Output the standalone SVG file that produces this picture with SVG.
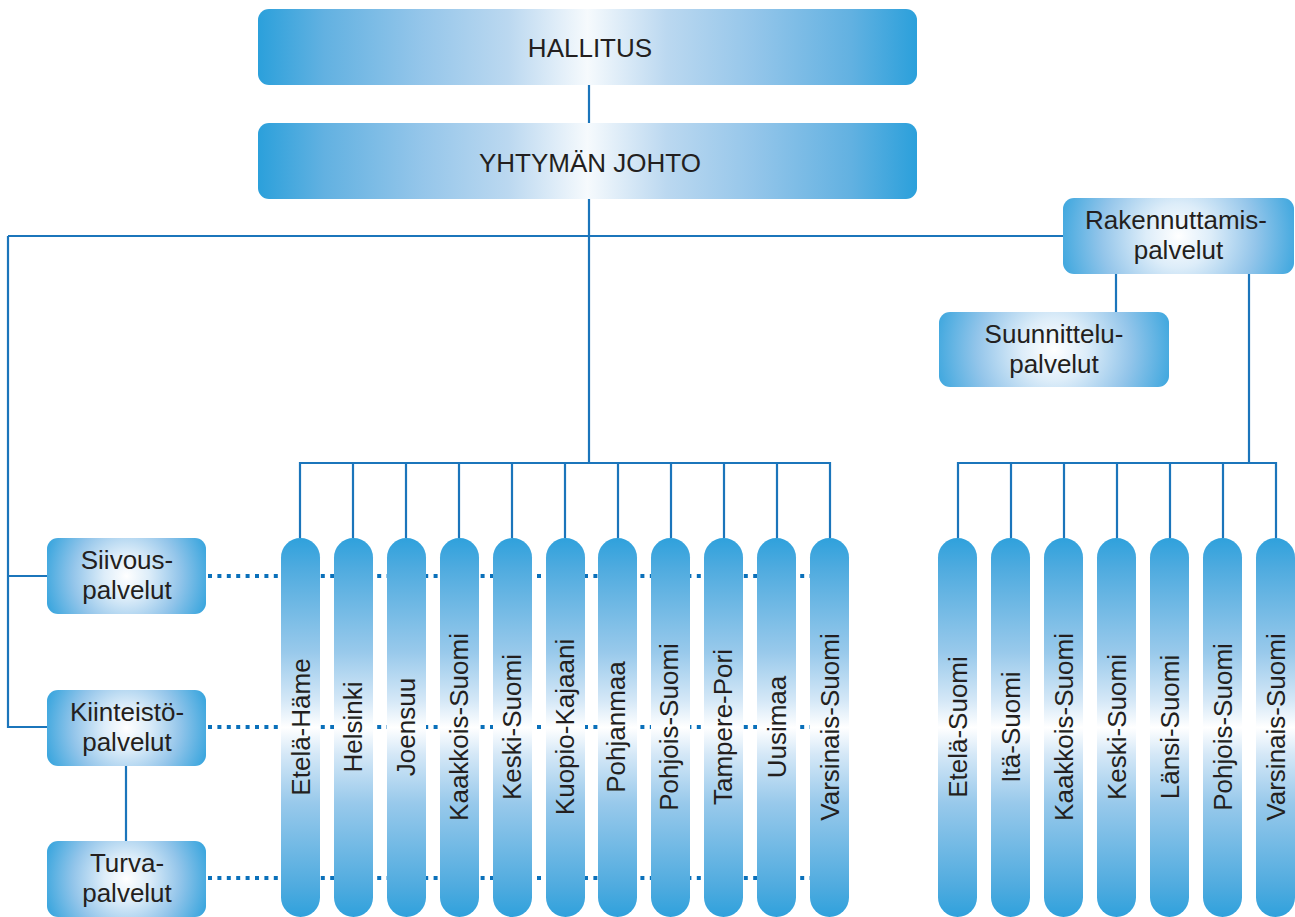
<svg xmlns="http://www.w3.org/2000/svg" width="1295" height="917" viewBox="0 0 1295 917">
<defs>
<linearGradient id="gWide" x1="0" y1="0" x2="1" y2="0">
<stop offset="0" stop-color="#2BA0DB"/>
<stop offset="0.1" stop-color="#62B1E1"/>
<stop offset="0.25" stop-color="#95C6EA"/>
<stop offset="0.38" stop-color="#BBD8F0"/>
<stop offset="0.5" stop-color="#F6FAFD"/>
<stop offset="0.62" stop-color="#BBD8F0"/>
<stop offset="0.75" stop-color="#95C6EA"/>
<stop offset="0.9" stop-color="#62B1E1"/>
<stop offset="1" stop-color="#2BA0DB"/>
</linearGradient>
<radialGradient id="gSmall" cx="0.5" cy="0.5" r="0.56" gradientTransform="translate(0.5,0.5) scale(1,2.1) translate(-0.5,-0.5)">
<stop offset="0" stop-color="#FFFFFF"/>
<stop offset="0.25" stop-color="#DDEDF9"/>
<stop offset="0.6" stop-color="#93C5EA"/>
<stop offset="1" stop-color="#2DA1DC"/>
</radialGradient>
<radialGradient id="gMid" cx="0.5" cy="0.5" r="0.56" gradientTransform="translate(0.5,0.5) scale(1,3) translate(-0.5,-0.5)">
<stop offset="0" stop-color="#FFFFFF"/>
<stop offset="0.25" stop-color="#DDEDF9"/>
<stop offset="0.6" stop-color="#93C5EA"/>
<stop offset="1" stop-color="#2DA1DC"/>
</radialGradient>
<linearGradient id="gBar" x1="0" y1="0" x2="0" y2="1">
<stop offset="0" stop-color="#2FA1DC"/>
<stop offset="0.08" stop-color="#4FABDF"/>
<stop offset="0.3" stop-color="#98C9EB"/>
<stop offset="0.43" stop-color="#D5E8F7"/>
<stop offset="0.5" stop-color="#FFFFFF"/>
<stop offset="0.57" stop-color="#D5E8F7"/>
<stop offset="0.7" stop-color="#98C9EB"/>
<stop offset="0.92" stop-color="#4FABDF"/>
<stop offset="1" stop-color="#2FA1DC"/>
</linearGradient>
</defs>
<style>
.ln{stroke:#1B75BB;stroke-width:2.2;fill:none}
.dot{stroke:#0A70BA;stroke-width:4;stroke-dasharray:4 5.4;fill:none}
.t{font-family:"Liberation Sans",Arial,sans-serif;font-size:26px;fill:#231F20;text-anchor:middle}
.wide{fill:url(#gWide)}
.small{fill:url(#gSmall)}
.mid{fill:url(#gMid)}
.bar{fill:url(#gBar)}
</style>
<rect width="1295" height="917" fill="#FFFFFF"/>
<g id="connectors">
<line class="ln" x1="589" y1="84" x2="589" y2="123"/>
<line class="ln" x1="589" y1="197" x2="589" y2="463"/>
<line class="ln" x1="8" y1="236" x2="1063" y2="236"/>
<polyline class="ln" points="47,727 8,727 8,236"/>
<line class="ln" x1="8" y1="576" x2="47" y2="576"/>
<line class="ln" x1="126" y1="766" x2="126" y2="841"/>
<line class="ln" x1="1116" y1="274" x2="1116" y2="312"/>
<line class="ln" x1="1249" y1="274" x2="1249" y2="463"/>
<polyline class="ln" points="300,538 300,463 830,463 830,538"/>
<line class="ln" x1="353" y1="463" x2="353" y2="538"/>
<line class="ln" x1="406" y1="463" x2="406" y2="538"/>
<line class="ln" x1="459" y1="463" x2="459" y2="538"/>
<line class="ln" x1="512" y1="463" x2="512" y2="538"/>
<line class="ln" x1="565" y1="463" x2="565" y2="538"/>
<line class="ln" x1="618" y1="463" x2="618" y2="538"/>
<line class="ln" x1="671" y1="463" x2="671" y2="538"/>
<line class="ln" x1="724" y1="463" x2="724" y2="538"/>
<line class="ln" x1="777" y1="463" x2="777" y2="538"/>
<polyline class="ln" points="958,538 958,463 1276,463 1276,538"/>
<line class="ln" x1="1011" y1="463" x2="1011" y2="538"/>
<line class="ln" x1="1064" y1="463" x2="1064" y2="538"/>
<line class="ln" x1="1117" y1="463" x2="1117" y2="538"/>
<line class="ln" x1="1170" y1="463" x2="1170" y2="538"/>
<line class="ln" x1="1223" y1="463" x2="1223" y2="538"/>
<line class="dot" x1="208" y1="576" x2="812" y2="576"/>
<line class="dot" x1="208" y1="727" x2="812" y2="727"/>
<line class="dot" x1="208" y1="878" x2="812" y2="878"/>
</g>
<g id="hallitus"><rect class="wide" x="258" y="9" width="659" height="76" rx="11"/><text class="t" x="590" y="57">HALLITUS</text></g>
<g id="yhtyman-johto"><rect class="wide" x="258" y="123" width="659" height="76" rx="11"/><text class="t" x="590" y="172">YHTYMÄN JOHTO</text></g>
<g id="rakennuttamispalvelut"><rect class="mid" x="1063" y="198" width="231" height="76" rx="11"/><text class="t" x="1176" y="229">Rakennuttamis-</text><text class="t" x="1178.5" y="259">palvelut</text></g>
<g id="suunnittelupalvelut"><rect class="mid" x="939" y="312" width="230" height="75" rx="11"/><text class="t" x="1054" y="343">Suunnittelu-</text><text class="t" x="1054" y="373">palvelut</text></g>
<g id="siivouspalvelut"><rect class="small" x="47" y="538" width="159" height="76" rx="11"/><text class="t" x="127" y="569">Siivous-</text><text class="t" x="127" y="599">palvelut</text></g>
<g id="kiinteistopalvelut"><rect class="small" x="47" y="690" width="159" height="76" rx="11"/><text class="t" x="127" y="721">Kiinteistö-</text><text class="t" x="127" y="751">palvelut</text></g>
<g id="turvapalvelut"><rect class="small" x="47" y="841" width="159" height="76" rx="11"/><text class="t" x="127" y="872">Turva-</text><text class="t" x="127" y="902">palvelut</text></g>
<g id="etela-hame"><rect class="bar" x="281" y="538" width="39" height="379" rx="19.5"/><text class="t" transform="translate(310,727) rotate(-90)">Etelä-Häme</text></g>
<g id="helsinki"><rect class="bar" x="334" y="538" width="39" height="379" rx="19.5"/><text class="t" transform="translate(362,727) rotate(-90)">Helsinki</text></g>
<g id="joensuu"><rect class="bar" x="387" y="538" width="39" height="379" rx="19.5"/><text class="t" transform="translate(415,727) rotate(-90)">Joensuu</text></g>
<g id="kaakkois-suomi"><rect class="bar" x="440" y="538" width="39" height="379" rx="19.5"/><text class="t" transform="translate(468,727) rotate(-90)">Kaakkois-Suomi</text></g>
<g id="keski-suomi"><rect class="bar" x="493" y="538" width="39" height="379" rx="19.5"/><text class="t" transform="translate(521,727) rotate(-90)">Keski-Suomi</text></g>
<g id="kuopio-kajaani"><rect class="bar" x="546" y="538" width="39" height="379" rx="19.5"/><text class="t" transform="translate(574,727) rotate(-90)">Kuopio-Kajaani</text></g>
<g id="pohjanmaa"><rect class="bar" x="598" y="538" width="39" height="379" rx="19.5"/><text class="t" transform="translate(625,727) rotate(-90)">Pohjanmaa</text></g>
<g id="pohjois-suomi"><rect class="bar" x="651" y="538" width="39" height="379" rx="19.5"/><text class="t" transform="translate(678,727) rotate(-90)">Pohjois-Suomi</text></g>
<g id="tampere-pori"><rect class="bar" x="704" y="538" width="39" height="379" rx="19.5"/><text class="t" transform="translate(732,727) rotate(-90)">Tampere-Pori</text></g>
<g id="uusimaa"><rect class="bar" x="757" y="538" width="39" height="379" rx="19.5"/><text class="t" transform="translate(786,727) rotate(-90)">Uusimaa</text></g>
<g id="varsinais-suomi"><rect class="bar" x="810" y="538" width="39" height="379" rx="19.5"/><text class="t" transform="translate(839,727) rotate(-90)">Varsinais-Suomi</text></g>
<g id="r-etela-suomi"><rect class="bar" x="938" y="538" width="39" height="379" rx="19.5"/><text class="t" transform="translate(967,727) rotate(-90)">Etelä-Suomi</text></g>
<g id="r-ita-suomi"><rect class="bar" x="991" y="538" width="39" height="379" rx="19.5"/><text class="t" transform="translate(1020,727) rotate(-90)">Itä-Suomi</text></g>
<g id="r-kaakkois-suomi"><rect class="bar" x="1044" y="538" width="39" height="379" rx="19.5"/><text class="t" transform="translate(1073,727) rotate(-90)">Kaakkois-Suomi</text></g>
<g id="r-keski-suomi"><rect class="bar" x="1097" y="538" width="39" height="379" rx="19.5"/><text class="t" transform="translate(1126,727) rotate(-90)">Keski-Suomi</text></g>
<g id="r-lansi-suomi"><rect class="bar" x="1150" y="538" width="39" height="379" rx="19.5"/><text class="t" transform="translate(1179,727) rotate(-90)">Länsi-Suomi</text></g>
<g id="r-pohjois-suomi"><rect class="bar" x="1203" y="538" width="39" height="379" rx="19.5"/><text class="t" transform="translate(1232,727) rotate(-90)">Pohjois-Suomi</text></g>
<g id="r-varsinais-suomi"><rect class="bar" x="1256" y="538" width="39" height="379" rx="19.5"/><text class="t" transform="translate(1285,727) rotate(-90)">Varsinais-Suomi</text></g>
</svg>
